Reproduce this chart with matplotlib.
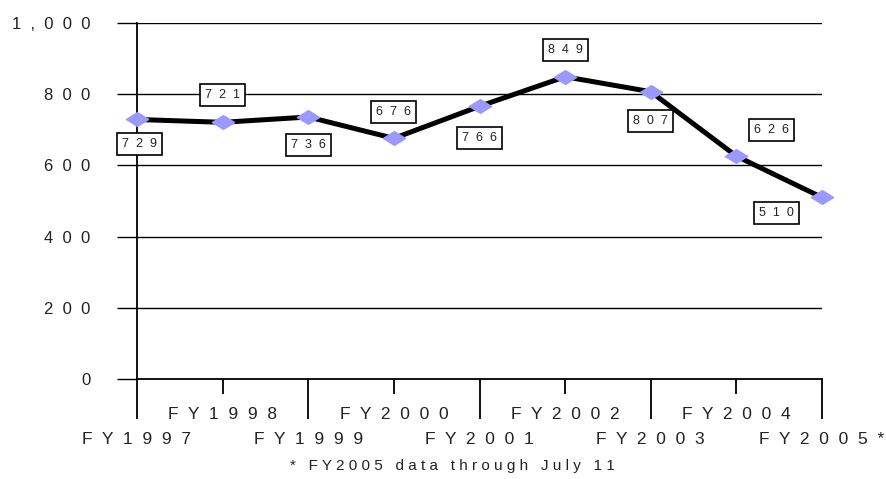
import numpy as np
import matplotlib
matplotlib.use("Agg")
import matplotlib.pyplot as plt
from matplotlib.path import Path
from matplotlib.ticker import FixedLocator, FixedFormatter

plt.rcParams["font.family"] = ["Liberation Sans", "DejaVu Sans"]

years = ["FY1997", "FY1998", "FY1999", "FY2000", "FY2001",
         "FY2002", "FY2003", "FY2004", "FY2005*"]
counts = [729, 721, 736, 676, 766, 849, 807, 626, 510]
yticks = [0, 200, 400, 600, 800, 1000]
footnote = "* FY2005 data through July 11"

# label offsets in points (dx, dy) from each point
label_off = [(2, -18), (0, 20), (0, -20), (0, 19), (0, -23),
             (0, 19), (0, -21), (25, 19), (-33, -11)]


def spaced(s, gap="  "):
    return gap.join(s)


x = np.arange(len(years))

fig = plt.figure(figsize=(8.86, 4.79), dpi=100)
ax = fig.add_axes([137 / 886, 1 - 379 / 479, (822 - 137) / 886, (379 - 23) / 479])

# flattened diamond marker
diamond = Path([(-1, 0), (0, 0.62), (1, 0), (0, -0.62), (-1, 0)],
               [Path.MOVETO, Path.LINETO, Path.LINETO, Path.LINETO, Path.CLOSEPOLY])

for y in yticks[1:]:
    ax.axhline(y, color="black", lw=1.0, zorder=1)

ax.plot(x, counts, color="black", lw=3.6, zorder=3, solid_capstyle="round",
        clip_on=False)
ax.plot(x, counts, ls="none", marker=diamond, ms=16, mfc="#9999ff",
        mec="#9999ff", zorder=4, clip_on=False)

for xi, v, (dx, dy) in zip(x, counts, label_off):
    ax.annotate(spaced(str(v)), (xi, v), xytext=(dx, dy), textcoords="offset points",
                ha="center", va="center", fontsize=9, color="#222222",
                bbox=dict(boxstyle="square,pad=0.4", fc="white", ec="black", lw=1.2),
                zorder=5, annotation_clip=False)

ax.set_xlim(0, len(years) - 1)
ax.set_ylim(0, 1000)

for side in ["top", "right"]:
    ax.spines[side].set_visible(False)
ax.spines["left"].set_linewidth(1.3)
ax.spines["bottom"].set_linewidth(1.3)

ax.set_yticks(yticks)
ax.set_yticklabels([spaced(f"{t:,}") for t in yticks])
ax.tick_params(axis="y", direction="out", length=14.4, width=1.0, pad=19,
               labelsize=12, labelcolor="#222222")

even = x[::2]
odd = x[1::2]
ax.xaxis.set_major_locator(FixedLocator(even))
ax.xaxis.set_major_formatter(FixedFormatter([spaced(years[i]) for i in even]))
ax.xaxis.set_minor_locator(FixedLocator(odd))
ax.xaxis.set_minor_formatter(FixedFormatter([spaced(years[i]) for i in odd]))
ax.tick_params(axis="x", which="major", direction="out", length=29, width=1.3,
               pad=9.5, labelsize=12.5, labelcolor="#222222")
ax.tick_params(axis="x", which="minor", direction="out", length=11, width=1.3,
               pad=9.5, labelsize=12.5, labelcolor="#222222")

fig.text(452 / 886, 1 - 466 / 479, spaced(footnote, " "), ha="center", va="center",
         fontsize=11, color="#222222")

fig.savefig("out.png", dpi=100)
